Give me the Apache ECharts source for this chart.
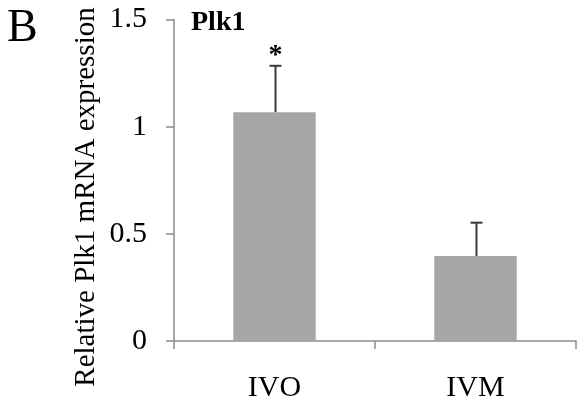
<!DOCTYPE html>
<html><head><meta charset="utf-8">
<script src="https://cdn.jsdelivr.net/npm/echarts@6/dist/echarts.min.js"></script>
<style>html,body{margin:0;padding:0;background:#fff}#c{width:577px;height:403px}</style>
</head><body><div id="c"></div>
<script>
const categories = ['IVO', 'IVM'];
const values = [1.067, 0.397];
const errors = [0.217, 0.155];
const marks = ['*', ''];
const yTicks = [0, 0.5, 1, 1.5];
const yTitle = 'Relative Plk1 mRNA expression';

const serif = '"Liberation Serif","DejaVu Serif",serif';
const chart = echarts.init(document.getElementById('c'));
chart.setOption({
  animation: false,
  backgroundColor: '#fff',
  graphic: [
    { type: 'text', left: 7, top: 6, style: { text: 'B', font: '46px ' + serif, fill: '#000' } },
    { type: 'text', left: 191, top: 9, style: { text: 'Plk1', font: 'bold 28px ' + serif, fill: '#000' } },
    { type: 'text', x: 86, y: 197, rotation: Math.PI / 2,
      style: { text: yTitle, x: 0, y: 0, align: 'center', verticalAlign: 'middle', font: '29px ' + serif, fill: '#000' } }
  ],
  grid: { left: 174, right: 1, top: 19.5, bottom: 61 },
  xAxis: {
    type: 'category', data: categories,
    axisLine: { lineStyle: { color: '#8c8c8c', width: 1.5 } },
    axisTick: { show: true, length: 8, lineStyle: { color: '#8c8c8c', width: 1.5 } },
    axisLabel: { fontFamily: serif, fontSize: 30, color: '#000', margin: 32 }
  },
  yAxis: {
    type: 'value', min: 0, max: 1.5, interval: 0.5,
    splitLine: { show: false },
    axisLine: { show: true, lineStyle: { color: '#8c8c8c', width: 1.5 } },
    axisTick: { show: true, length: 8, lineStyle: { color: '#8c8c8c', width: 1.5 } },
    axisLabel: { fontFamily: serif, fontSize: 30, color: '#000', margin: 27,
      formatter: v => yTicks.includes(v) ? String(v) : '' }
  },
  series: [
    { type: 'bar', data: values, barWidth: '41%', itemStyle: { color: '#a6a6a6' }, silent: true },
    { type: 'custom', silent: true,
      data: values.map((v, i) => [i, v, v + errors[i]]),
      renderItem: (params, api) => {
        const base = api.coord([api.value(0), api.value(1)]);
        const top = api.coord([api.value(0), api.value(2)]);
        const x = Math.round(base[0]) + 0.5;
        const children = [
          { type: 'line', shape: { x1: x, y1: base[1], x2: x, y2: top[1] }, style: { stroke: '#3a3a3a', lineWidth: 2 } },
          { type: 'line', shape: { x1: x - 6, y1: top[1], x2: x + 6, y2: top[1] }, style: { stroke: '#3a3a3a', lineWidth: 2 } }
        ];
        const m = marks[params.dataIndex];
        if (m) children.push({ type: 'text', style: { text: m, x: x, y: top[1] - 10, align: 'center', verticalAlign: 'middle', font: 'bold 28px ' + serif, fill: '#000' } });
        return { type: 'group', children };
      }
    }
  ]
});
</script></body></html>
